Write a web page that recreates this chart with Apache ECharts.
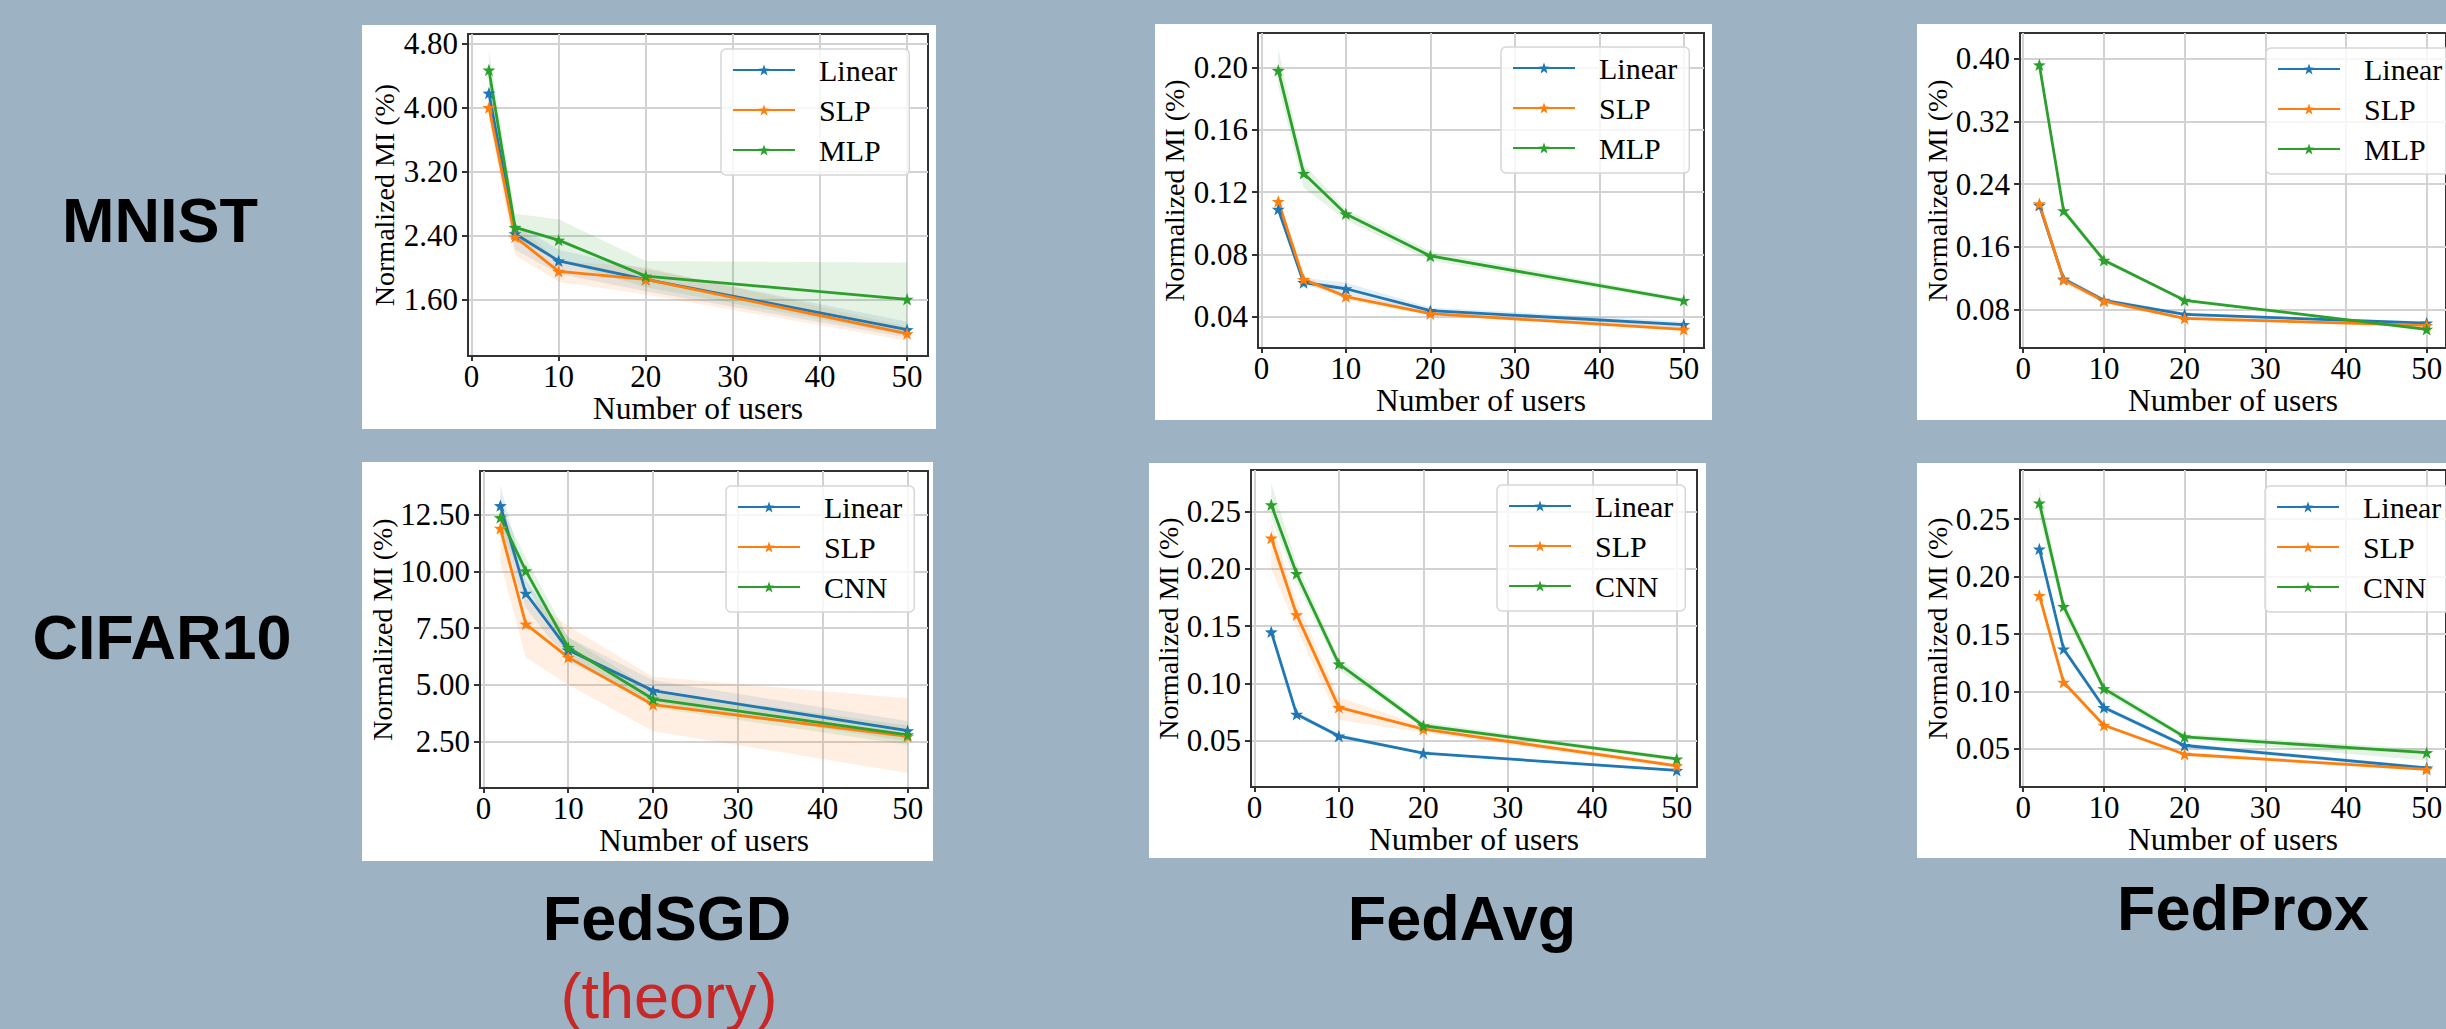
<!DOCTYPE html>
<html><head><meta charset="utf-8">
<script src="https://cdn.jsdelivr.net/npm/echarts@6/dist/echarts.min.js"></script>
<style>html,body{margin:0;padding:0;background:#9db2c2;}#c{width:2446px;height:1029px;}</style>
</head><body><div id="c"></div>
<script>
// ---------------- data ----------------
const users = [2, 5, 10, 20, 50];
const xTicks = [0, 10, 20, 30, 40, 50];

// MNIST / FedSGD
const mnistSgdTicks = [1.60, 2.40, 3.20, 4.00, 4.80];
const mnistSgdLinear = [4.18, 2.42, 2.08, 1.85, 1.22];
const mnistSgdLinearLo = [3.95, 2.22, 1.92, 1.70, 1.12];
const mnistSgdLinearHi = [4.40, 2.55, 2.22, 1.98, 1.32];
const mnistSgdSlp = [4.00, 2.38, 1.95, 1.85, 1.17];
const mnistSgdSlpLo = [3.85, 2.15, 1.82, 1.66, 1.08];
const mnistSgdSlpHi = [4.15, 2.55, 2.08, 2.00, 1.26];
const mnistSgdMlp = [4.47, 2.50, 2.34, 1.89, 1.60];
const mnistSgdMlpLo = [4.25, 2.35, 2.08, 1.75, 1.15];
const mnistSgdMlpHi = [4.72, 2.67, 2.60, 2.08, 2.06];

// MNIST / FedAvg
const mnistAvgTicks = [0.04, 0.08, 0.12, 0.16, 0.20];
const mnistAvgLinear = [0.109, 0.062, 0.058, 0.044, 0.035];
const mnistAvgLinearLo = [0.106, 0.060, 0.055, 0.042, 0.033];
const mnistAvgLinearHi = [0.112, 0.065, 0.062, 0.046, 0.037];
const mnistAvgSlp = [0.114, 0.064, 0.053, 0.042, 0.032];
const mnistAvgSlpLo = [0.110, 0.062, 0.051, 0.041, 0.031];
const mnistAvgSlpHi = [0.118, 0.066, 0.055, 0.044, 0.034];
const mnistAvgMlp = [0.198, 0.132, 0.106, 0.079, 0.0505];
const mnistAvgMlpLo = [0.188, 0.123, 0.102, 0.076, 0.049];
const mnistAvgMlpHi = [0.212, 0.138, 0.109, 0.082, 0.052];

// MNIST / FedProx
const mnistProxTicks = [0.08, 0.16, 0.24, 0.32, 0.40];
const mnistProxLinear = [0.213, 0.119, 0.092, 0.074, 0.063];
const mnistProxLinearLo = [0.209, 0.115, 0.089, 0.072, 0.061];
const mnistProxLinearHi = [0.217, 0.123, 0.095, 0.076, 0.065];
const mnistProxSlp = [0.215, 0.118, 0.091, 0.069, 0.060];
const mnistProxSlpLo = [0.211, 0.114, 0.088, 0.067, 0.058];
const mnistProxSlpHi = [0.219, 0.122, 0.094, 0.071, 0.062];
const mnistProxMlp = [0.392, 0.206, 0.143, 0.092, 0.055];
const mnistProxMlpLo = [0.382, 0.201, 0.140, 0.090, 0.053];
const mnistProxMlpHi = [0.402, 0.211, 0.146, 0.094, 0.057];

// CIFAR10 / FedSGD
const cifarSgdTicks = [2.50, 5.00, 7.50, 10.00, 12.50];
const cifarSgdLinear = [12.91, 9.04, 6.54, 4.74, 2.97];
const cifarSgdLinearLo = [11.9, 8.4, 6.0, 4.25, 2.5];
const cifarSgdLinearHi = [13.8, 9.6, 7.1, 5.2, 3.4];
const cifarSgdSlp = [11.91, 7.68, 6.21, 4.12, 2.72];
const cifarSgdSlpLo = [10.4, 6.2, 5.0, 2.95, 1.1];
const cifarSgdSlpHi = [13.4, 9.0, 7.6, 5.35, 4.4];
const cifarSgdCnn = [12.38, 10.03, 6.65, 4.37, 2.79];
const cifarSgdCnnLo = [11.9, 9.4, 6.2, 4.0, 2.35];
const cifarSgdCnnHi = [12.9, 10.6, 7.1, 4.75, 3.2];

// CIFAR10 / FedAvg
const cifarAvgTicks = [0.05, 0.10, 0.15, 0.20, 0.25];
const cifarAvgLinear = [0.145, 0.073, 0.054, 0.039, 0.024];
const cifarAvgLinearLo = [0.143, 0.071, 0.052, 0.038, 0.023];
const cifarAvgLinearHi = [0.147, 0.075, 0.056, 0.040, 0.025];
const cifarAvgSlp = [0.227, 0.160, 0.079, 0.060, 0.028];
const cifarAvgSlpLo = [0.200, 0.148, 0.068, 0.057, 0.026];
const cifarAvgSlpHi = [0.241, 0.171, 0.088, 0.063, 0.030];
const cifarAvgCnn = [0.256, 0.196, 0.117, 0.063, 0.034];
const cifarAvgCnnLo = [0.245, 0.188, 0.112, 0.061, 0.032];
const cifarAvgCnnHi = [0.275, 0.205, 0.122, 0.066, 0.036];

// CIFAR10 / FedProx
const cifarProxTicks = [0.05, 0.10, 0.15, 0.20, 0.25];
const cifarProxLinear = [0.224, 0.137, 0.086, 0.053, 0.0335];
const cifarProxLinearLo = [0.221, 0.134, 0.084, 0.051, 0.032];
const cifarProxLinearHi = [0.227, 0.140, 0.088, 0.055, 0.035];
const cifarProxSlp = [0.1835, 0.108, 0.0706, 0.0454, 0.0323];
const cifarProxSlpLo = [0.181, 0.106, 0.069, 0.044, 0.031];
const cifarProxSlpHi = [0.186, 0.110, 0.072, 0.047, 0.034];
const cifarProxCnn = [0.264, 0.174, 0.1025, 0.0605, 0.0468];
const cifarProxCnnLo = [0.252, 0.167, 0.099, 0.058, 0.040];
const cifarProxCnnHi = [0.278, 0.180, 0.106, 0.063, 0.050];

const rowLabels = ['MNIST', 'CIFAR10'];
const colLabels = ['FedSGD', 'FedAvg', 'FedProx'];
const subLabel = '(theory)';

// ---------------- layout / styles ----------------
const C_LIN = '#1f77b4', C_SLP = '#ff7f0e', C_NN = '#2ca02c';
const SERIF = '"Liberation Serif", "Times New Roman", serif';
const SANS = '"Liberation Sans", Arial, sans-serif';
const STAR = 'path://M0,-10 L2.35,-3.24 L9.51,-3.09 L3.8,1.24 L5.88,8.09 L0,4 L-5.88,8.09 L-3.8,1.24 L-9.51,-3.09 L-2.35,-3.24 Z';

function mk(name, color, mean, lo, hi) { return { name, color, mean, lo, hi }; }

const panels = [
  { grid: { left: 468, top: 34, width: 460, height: 322 }, box: [362, 25, 574, 404],
    yMin: 0.89, yMax: 4.92, yTicks: mnistSgdTicks, yGap: 70,
    legend: { left: 721, top: 49 },
    models: [mk('Linear', C_LIN, mnistSgdLinear, mnistSgdLinearLo, mnistSgdLinearHi),
             mk('SLP', C_SLP, mnistSgdSlp, mnistSgdSlpLo, mnistSgdSlpHi),
             mk('MLP', C_NN, mnistSgdMlp, mnistSgdMlpLo, mnistSgdMlpHi)] },
  { grid: { left: 1258, top: 33, width: 446, height: 315 }, box: [1155, 24, 557, 396],
    yMin: 0.020, yMax: 0.222, yTicks: mnistAvgTicks, yGap: 70,
    legend: { left: 1501, top: 47 },
    models: [mk('Linear', C_LIN, mnistAvgLinear, mnistAvgLinearLo, mnistAvgLinearHi),
             mk('SLP', C_SLP, mnistAvgSlp, mnistAvgSlpLo, mnistAvgSlpHi),
             mk('MLP', C_NN, mnistAvgMlp, mnistAvgMlpLo, mnistAvgMlpHi)] },
  { grid: { left: 2020, top: 33, width: 446, height: 315 }, box: [1917, 24, 540, 396],
    yMin: 0.0312, yMax: 0.4326, yTicks: mnistProxTicks, yGap: 66,
    legend: { left: 2266, top: 48 },
    models: [mk('Linear', C_LIN, mnistProxLinear, mnistProxLinearLo, mnistProxLinearHi),
             mk('SLP', C_SLP, mnistProxSlp, mnistProxSlpLo, mnistProxSlpHi),
             mk('MLP', C_NN, mnistProxMlp, mnistProxMlpLo, mnistProxMlpHi)] },
  { grid: { left: 480, top: 471, width: 448, height: 317 }, box: [362, 462, 571, 399],
    yMin: 0.44, yMax: 14.44, yTicks: cifarSgdTicks, yGap: 84,
    legend: { left: 726, top: 486 },
    models: [mk('Linear', C_LIN, cifarSgdLinear, cifarSgdLinearLo, cifarSgdLinearHi),
             mk('SLP', C_SLP, cifarSgdSlp, cifarSgdSlpLo, cifarSgdSlpHi),
             mk('CNN', C_NN, cifarSgdCnn, cifarSgdCnnLo, cifarSgdCnnHi)] },
  { grid: { left: 1251, top: 470, width: 446, height: 317 }, box: [1149, 463, 557, 395],
    yMin: 0.0095, yMax: 0.2864, yTicks: cifarAvgTicks, yGap: 67,
    legend: { left: 1497, top: 485 },
    models: [mk('Linear', C_LIN, cifarAvgLinear, cifarAvgLinearLo, cifarAvgLinearHi),
             mk('SLP', C_SLP, cifarAvgSlp, cifarAvgSlpLo, cifarAvgSlpHi),
             mk('CNN', C_NN, cifarAvgCnn, cifarAvgCnnLo, cifarAvgCnnHi)] },
  { grid: { left: 2020, top: 470, width: 446, height: 317 }, box: [1917, 463, 540, 395],
    yMin: 0.0169, yMax: 0.2927, yTicks: cifarProxTicks, yGap: 66,
    legend: { left: 2265, top: 486 },
    models: [mk('Linear', C_LIN, cifarProxLinear, cifarProxLinearLo, cifarProxLinearHi),
             mk('SLP', C_SLP, cifarProxSlp, cifarProxSlpLo, cifarProxSlpHi),
             mk('CNN', C_NN, cifarProxCnn, cifarProxCnnLo, cifarProxCnnHi)] }
];

const grids = [], xAxes = [], yAxes = [], series = [], legends = [], graphics = [];
const axisLineStyle = { color: '#333', width: 2 };
const splitStyle = { color: '#d2d2d2', width: 2 };

function bandRenderer(m) {
  return function (params, api) {
    if (params.dataIndex !== 0) return null;
    const up = [], dn = [];
    for (let k = 0; k < users.length; k++) {
      up.push(api.coord([users[k], m.hi[k]]));
      dn.push(api.coord([users[k], m.lo[k]]));
    }
    return { type: 'polygon', silent: true,
      shape: { points: up.concat(dn.reverse()) },
      style: { fill: m.color, opacity: 0.12 } };
  };
}

panels.forEach((p, i) => {
  graphics.push({ type: 'rect', z: -10, silent: true,
    shape: { x: p.box[0], y: p.box[1], width: p.box[2], height: p.box[3] },
    style: { fill: '#ffffff' } });
  grids.push(Object.assign({ show: true, borderColor: '#333', borderWidth: 2, backgroundColor: 'transparent', containLabel: false }, p.grid));
  xAxes.push({ gridIndex: i, type: 'value', min: -0.4, max: 52.4,
    name: 'Number of users', nameLocation: 'middle', nameGap: 35,
    nameTextStyle: { fontFamily: SERIF, fontSize: 31.5, color: '#000' },
    axisLine: { show: true, onZero: false, lineStyle: axisLineStyle },
    axisTick: { show: true, length: 5, customValues: xTicks, lineStyle: axisLineStyle },
    axisLabel: { customValues: xTicks, margin: 5, fontFamily: SERIF, fontSize: 31, color: '#000' },
    splitLine: { show: true, lineStyle: splitStyle } });
  yAxes.push({ gridIndex: i, type: 'value', min: p.yMin, max: p.yMax,
    name: 'Normalized MI (%)', nameLocation: 'middle', nameGap: p.yGap, nameRotate: 90,
    nameTextStyle: { fontFamily: SERIF, fontSize: 28, color: '#000' },
    axisLine: { show: true, onZero: false, lineStyle: axisLineStyle },
    axisTick: { show: true, length: 6, customValues: p.yTicks, lineStyle: axisLineStyle },
    axisLabel: { customValues: p.yTicks, formatter: v => v.toFixed(2), margin: 10, fontFamily: SERIF, fontSize: 31, color: '#000' },
    splitLine: { show: true, lineStyle: splitStyle } });
  p.models.forEach(m => {
    series.push({ type: 'custom', name: m.name + ' band', xAxisIndex: i, yAxisIndex: i, silent: true, z: 1,
      data: users.map((u, k) => [u, m.lo[k], m.hi[k]]),
      encode: { x: 0, y: [1, 2] },
      renderItem: bandRenderer(m) });
  });
  p.models.forEach(m => {
    series.push({ type: 'line', name: m.name, xAxisIndex: i, yAxisIndex: i,
      data: users.map((u, k) => [u, m.mean[k]]),
      symbol: STAR, symbolSize: 13, symbolKeepAspect: true, showSymbol: true,
      lineStyle: { width: 2.8, color: m.color }, itemStyle: { color: m.color }, z: 3 });
  });
  legends.push({ orient: 'vertical', left: p.legend.left, top: p.legend.top,
    data: p.models.map(m => m.name), selectedMode: false,
    itemWidth: 62, itemHeight: 14, itemGap: 10,
    padding: [6, 12, 10, 11],
    backgroundColor: 'rgba(255,255,255,0.8)', borderColor: '#d6d6d6', borderWidth: 1.5, borderRadius: 5,
    textStyle: { fontFamily: SERIF, fontSize: 30, lineHeight: 30, color: '#000', padding: [0, 0, 0, 19] } });
});

// row / column labels
graphics.push({ type: 'text', style: { text: rowLabels[0], x: 160, y: 220, font: 'bold 63px ' + SANS, fill: '#000', align: 'center', verticalAlign: 'middle' } });
graphics.push({ type: 'text', style: { text: rowLabels[1], x: 162, y: 637, font: 'bold 63px ' + SANS, fill: '#000', align: 'center', verticalAlign: 'middle' } });
graphics.push({ type: 'text', style: { text: colLabels[0], x: 667, y: 918, font: 'bold 63px ' + SANS, fill: '#000', align: 'center', verticalAlign: 'middle' } });
graphics.push({ type: 'text', style: { text: subLabel, x: 669, y: 996, font: '63px ' + SANS, fill: '#c62828', align: 'center', verticalAlign: 'middle' } });
graphics.push({ type: 'text', style: { text: colLabels[1], x: 1462, y: 918, font: 'bold 63px ' + SANS, fill: '#000', align: 'center', verticalAlign: 'middle' } });
graphics.push({ type: 'text', style: { text: colLabels[2], x: 2243, y: 908, font: 'bold 63px ' + SANS, fill: '#000', align: 'center', verticalAlign: 'middle' } });

const chart = echarts.init(document.getElementById('c'), null, { renderer: 'svg' });
chart.setOption({
  backgroundColor: '#9db2c2',
  animation: false,
  grid: grids, xAxis: xAxes, yAxis: yAxes, legend: legends,
  graphic: { elements: graphics },
  series: series
});
</script></body></html>
